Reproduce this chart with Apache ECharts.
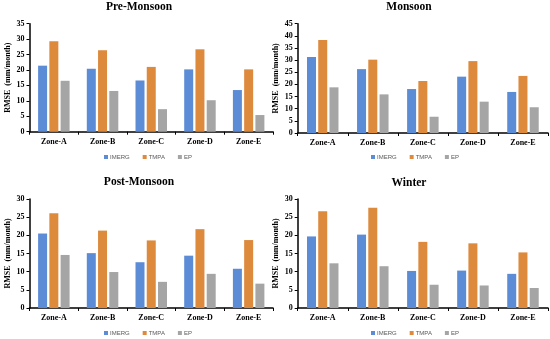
<!DOCTYPE html>
<html>
<head>
<meta charset="utf-8">
<script src="https://cdn.jsdelivr.net/npm/echarts@6/dist/echarts.min.js"></script>
<style>html,body{margin:0;padding:0;background:#fff;}#c{width:550px;height:339px;}</style>
</head>
<body>
<div id="c"></div>
<script>
var zones = ['Zone-A', 'Zone-B', 'Zone-C', 'Zone-D', 'Zone-E'];
var seriesNames = ['IMERG', 'TMPA', 'EP'];
var panelTitles = ['Pre-Monsoon', 'Monsoon', 'Post-Monsoon', 'Winter'];
var yMax = [35, 45, 30, 30];

var preImerg = [21.4, 20.4, 16.6, 20.2, 13.5];
var preTmpa  = [29.3, 26.4, 21.0, 26.7, 20.2];
var preEp    = [16.5, 13.2, 7.3, 10.2, 5.4];

var monImerg = [31.3, 26.3, 18.1, 23.2, 16.9];
var monTmpa  = [38.3, 30.2, 21.4, 29.6, 23.5];
var monEp    = [18.8, 15.9, 6.7, 12.9, 10.6];

var postImerg = [20.5, 15.1, 12.6, 14.4, 10.8];
var postTmpa  = [26.1, 21.3, 18.6, 21.7, 18.7];
var postEp    = [14.6, 9.9, 7.2, 9.4, 6.7];

var winImerg = [19.7, 20.2, 10.2, 10.3, 9.4];
var winTmpa  = [26.6, 27.6, 18.2, 17.8, 15.3];
var winEp    = [12.3, 11.5, 6.4, 6.2, 5.5];

var panelData = [
  [preImerg, preTmpa, preEp],
  [monImerg, monTmpa, monEp],
  [postImerg, postTmpa, postEp],
  [winImerg, winTmpa, winEp]
];

var colors = ['#5d8cd7', '#dd8a3d', '#a5a5a5'];
var serif = 'Liberation Serif';

var grids = [
  {left: 29.5, top: 23.7, width: 243.5, height: 108},
  {left: 297.7, top: 23.7, width: 250.3, height: 109.3},
  {left: 29.5, top: 199, width: 243.5, height: 109},
  {left: 297.7, top: 199, width: 250.3, height: 109}
];
var titlePos = [{x: 139, y: 1}, {x: 409, y: 1}, {x: 139, y: 176}, {x: 409, y: 177}];
var legendPos = [{x: 104, y: 154}, {x: 371, y: 154}, {x: 104, y: 330}, {x: 371, y: 330}];

var option = {
  animation: false,
  color: colors,
  title: [], grid: [], xAxis: [], yAxis: [], legend: [], series: []
};

for (var p = 0; p < 4; p++) {
  option.title.push({
    text: panelTitles[p], left: titlePos[p].x, top: titlePos[p].y, textAlign: 'center', padding: 0,
    textStyle: {fontFamily: serif, fontWeight: 'bold', fontSize: 11.5, color: '#000'}
  });
  option.grid.push(grids[p]);
  option.xAxis.push({
    type: 'category', gridIndex: p, data: zones,
    axisLine: {lineStyle: {color: '#000', width: 1.5}},
    axisTick: {show: true, length: 3, lineStyle: {color: '#000'}},
    axisLabel: {fontFamily: serif, fontWeight: 'bold', fontSize: 8, color: '#000', margin: 6},
    splitLine: {show: false}
  });
  option.yAxis.push({
    type: 'value', gridIndex: p, min: 0, max: yMax[p], interval: 5,
    name: 'RMSE  (mm/month)', nameLocation: 'middle', nameGap: 18, nameRotate: 90,
    nameTextStyle: {fontFamily: serif, fontWeight: 'bold', fontSize: 8, color: '#000'},
    axisLine: {show: true, lineStyle: {color: '#000', width: 1.5}},
    axisTick: {show: true, length: 3, lineStyle: {color: '#000'}},
    axisLabel: {fontFamily: serif, fontWeight: 'bold', fontSize: 8, color: '#000', margin: 5},
    splitLine: {show: false}
  });
  option.legend.push({
    data: seriesNames, left: legendPos[p].x, top: legendPos[p].y, padding: 0,
    itemWidth: 4, itemHeight: 4, itemGap: 13, icon: 'rect',
    textStyle: {fontFamily: 'Liberation Sans', fontSize: 6, color: '#595959', padding: [0, 0, 0, -3]}
  });
  for (var s = 0; s < 3; s++) {
    option.series.push({
      type: 'bar', name: seriesNames[s], xAxisIndex: p, yAxisIndex: p,
      data: panelData[p][s], barWidth: 9, barGap: '25%',
      itemStyle: {color: colors[s]}
    });
  }
}

var chart = echarts.init(document.getElementById('c'), null, {renderer: 'canvas'});
chart.setOption(option);
</script>
</body>
</html>
